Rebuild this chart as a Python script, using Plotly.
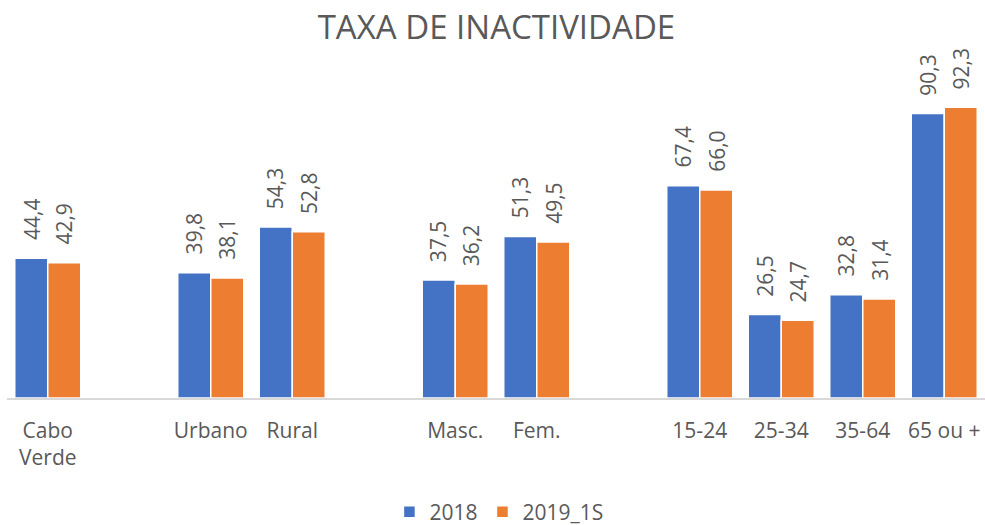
import plotly.graph_objects as go

categories = ["Cabo<br>Verde", "", "Urbano", "Rural", "", "Masc.", "Fem.", "", "15-24", "25-34", "35-64", "65 ou +"]
series_names = ["2018", "2019_1S"]
values_2018 = [44.4, None, 39.8, 54.3, None, 37.5, 51.3, None, 67.4, 26.5, 32.8, 90.3]
values_2019 = [42.9, None, 38.1, 52.8, None, 36.2, 49.5, None, 66.0, 24.7, 31.4, 92.3]
colors = ["#4472C4", "#ED7D31"]

FONT = "Open Sans"
GREY = "#595959"
BARGAP = 0.19

xs = list(range(len(categories)))
fig = go.Figure()
for name, vals, col in zip(series_names, [values_2018, values_2019], colors):
    fig.add_trace(go.Bar(
        x=xs, y=vals, name=name,
        marker=dict(color=col, line=dict(color="white", width=1.5)),
    ))

w = (1 - BARGAP) / 2
annotations = []
for k, vals in enumerate([values_2018, values_2019]):
    off = -w / 2 if k == 0 else w / 2
    for i, v in enumerate(vals):
        if v is None:
            continue
        annotations.append(dict(
            x=i + off, y=v, xref="x", yref="y",
            text=f"{v:.1f}".replace(".", ","),
            textangle=-90, showarrow=False,
            xanchor="center", yanchor="bottom", yshift=16,
            font=dict(family=FONT, size=21, color=GREY),
        ))

fig.update_layout(
    template="none",
    width=985, height=525,
    margin=dict(l=7, r=0, t=83, b=127, autoexpand=False),
    paper_bgcolor="white", plot_bgcolor="white",
    barmode="group", bargap=BARGAP, bargroupgap=0,
    title=dict(text="TAXA DE INACTIVIDADE", x=0.504, xanchor="center",
               y=0.947, yanchor="middle",
               font=dict(family=FONT, size=33, color=GREY)),
    xaxis=dict(tickmode="array", tickvals=xs, ticktext=categories,
               range=[-0.5, len(categories) - 0.5], automargin=False,
               showline=True, linecolor="#D9D9D9", linewidth=1.5,
               showgrid=False, zeroline=False, ticks="", ticklabelstandoff=13,
               tickfont=dict(family=FONT, size=21, color=GREY)),
    yaxis=dict(range=[0, 100], visible=False, showgrid=False, zeroline=False,
               automargin=False),
    legend=dict(orientation="h", x=0.503, xanchor="center", y=-0.362, yanchor="middle",
                font=dict(family=FONT, size=21, color=GREY)),
    annotations=annotations,
    showlegend=True,
)

fig.write_html("out.html", config={"displayModeBar": False},
               post_script="document.body.style.margin='0';document.body.style.overflow='hidden';")
